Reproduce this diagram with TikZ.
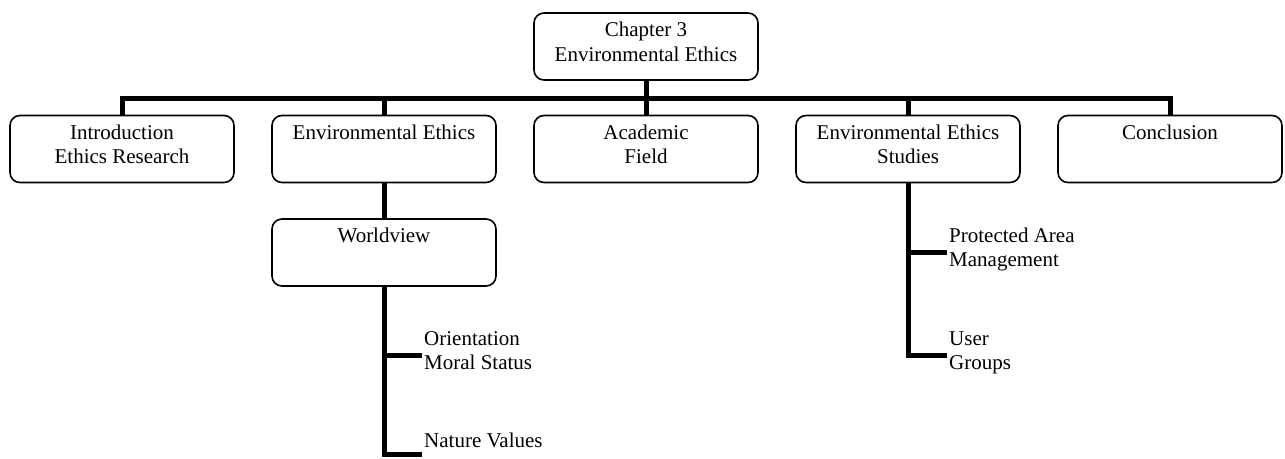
\documentclass[tikz,border=0pt]{standalone}
\usepackage{fontspec}
\setmainfont{Liberation Serif}
% fixed-size strut so every line has the same height and depth
\newcommand\lnstrut{\rule[-9.5pt]{0pt}{24pt}}
\newcommand\twol[2]{\lnstrut #1\\\lnstrut #2}
\tikzset{
  txt/.style={font=\fontsize{21}{24.6}\selectfont},
  box/.style={txt, draw, line width=1.6pt, rounded corners=10pt,
    minimum width=224pt, minimum height=67pt, inner sep=0pt, align=center},
  leaf/.style={txt, inner sep=2pt, align=left, anchor=west},
  conn/.style={line width=5pt, line join=miter}
}
\begin{document}
\begin{tikzpicture}[x=1pt, y=-1pt]
  \fill[white] (0,0) rectangle (1285,458);
  \useasboundingbox (0,0) rectangle (1285,458);

  % chapter and its sections
  \node[box] (top) at (646,46.5) {\twol{Chapter 3}{Environmental Ethics}};
  \node[box] (b1) at (122,149)  {\twol{Introduction}{Ethics Research}};
  \node[box] (b2) at (384,149)  {\twol{Environmental Ethics}{}};
  \node[box] (b3) at (646,149)  {\twol{Academic}{Field}};
  \node[box] (b4) at (908,149)  {\twol{Environmental Ethics}{Studies}};
  \node[box] (b5) at (1170,149) {\twol{Conclusion}{}};
  \node[box] (wv) at (384,252.5) {\twol{Worldview}{}};

  % sub-topics
  \node[leaf] (om) at (422,355)   {\twol{Orientation}{Moral Status}};
  \node[leaf] (nv) at (422,444.5) {\lnstrut Nature Values};
  \node[leaf] (pa) at (947,252)   {\twol{Protected Area}{Management}};
  \node[leaf] (ug) at (947,355)   {\twol{User}{Groups}};

  % bus joining the sections
  \coordinate (bus) at (646,98);
  \draw[conn] (top.south) -- (bus);
  \draw[conn] (b1.north) |- (bus) -| (b5.north);
  \foreach \b in {b2,b3,b4}
    \draw[conn] (\b.north) -- (\b.north |- bus);

  % branches below the sections
  \draw[conn] (b2.south) -- (wv.north);
  \draw[conn] (wv.south) |- ([yshift=-9.5pt]nv.west);
  \draw[conn] (wv.south |- om.west) -- (om.west);
  \draw[conn] (b4.south) |- (ug.west);
  \draw[conn] (b4.south |- pa.west) -- (pa.west);
\end{tikzpicture}
\end{document}
